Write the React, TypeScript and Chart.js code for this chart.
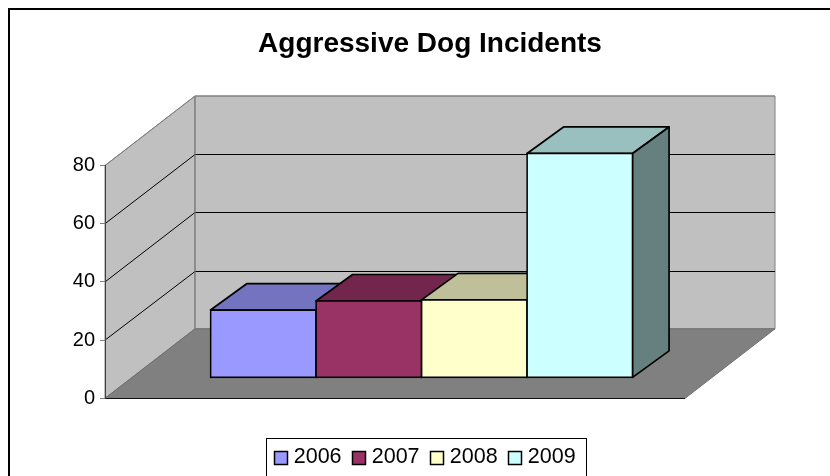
import React, { useEffect, useRef } from "react";
import { Chart, registerables } from "chart.js";

Chart.register(...registerables);

const categories = ["Incidents"];
const years = ["2006", "2007", "2008", "2009"];
const values = [23.3, 26.4, 26.8, 77.1];
const frontColors = ["#9999FF", "#993366", "#FFFFCC", "#CCFFFF"];
const topColors = ["#7373BF", "#73264D", "#BFBF99", "#99BFBF"];
const sideColors = ["#4D4D80", "#4D1A33", "#808066", "#668080"];
const yTicks = [0, 20, 40, 60, 80];

const FONT = "'Liberation Sans', Arial, sans-serif";
const WALL_DX = 90;
const WALL_DY = -69.5;
const FLOOR_SHIFT = 0.295;
const BAR_DX = 36.5;
const BAR_DY = -26.5;
const EDGE = 1.7;
const LEGEND_SHIFT_X = 82.3;
const LEGEND_SHIFT_Y = 2;
const SWATCH = 13;

const scene = {
  id: "scene3d",
  beforeDraw(chart: any) {
    const { ctx, width } = chart;
    const { left, right, top, bottom } = chart.chartArea;
    const y = chart.scales.y;
    ctx.save();
    ctx.fillStyle = "#FFFFFF";
    ctx.fillRect(0, 0, chart.width, chart.height);

    // outer frame
    ctx.strokeStyle = "#000000";
    ctx.lineWidth = 2;
    ctx.beginPath();
    ctx.moveTo(9, chart.height);
    ctx.lineTo(9, 9);
    ctx.lineTo(width, 9);
    ctx.stroke();

    // side wall
    ctx.fillStyle = "#C0C0C0";
    ctx.strokeStyle = "#808080";
    ctx.lineWidth = 1;
    ctx.beginPath();
    ctx.moveTo(left, bottom);
    ctx.lineTo(left, top);
    ctx.lineTo(left + WALL_DX, top + WALL_DY);
    ctx.lineTo(left + WALL_DX, bottom + WALL_DY);
    ctx.closePath();
    ctx.fill();
    ctx.stroke();

    // back wall
    ctx.beginPath();
    ctx.rect(left + WALL_DX, top + WALL_DY, right - left, bottom - top);
    ctx.fill();
    ctx.stroke();

    // floor
    ctx.fillStyle = "#808080";
    ctx.beginPath();
    ctx.moveTo(left, bottom);
    ctx.lineTo(left + WALL_DX, bottom + WALL_DY);
    ctx.lineTo(right + WALL_DX, bottom + WALL_DY);
    ctx.lineTo(right, bottom);
    ctx.closePath();
    ctx.fill();
    ctx.strokeStyle = "#6E6E6E";
    ctx.stroke();

    // grid lines
    ctx.strokeStyle = "#000000";
    ctx.lineWidth = 1;
    yTicks.slice(1, -1).forEach((t) => {
      const py = y.getPixelForValue(t);
      const backY = Math.round(py + WALL_DY) + 0.5;
      ctx.beginPath();
      ctx.moveTo(left, py);
      ctx.lineTo(left + WALL_DX, backY);
      ctx.lineTo(right + WALL_DX, backY);
      ctx.stroke();
    });
    // top edges in wall grey
    ctx.strokeStyle = "#808080";
    ctx.beginPath();
    ctx.moveTo(left, top);
    ctx.lineTo(left + WALL_DX, top + WALL_DY);
    ctx.lineTo(right + WALL_DX, top + WALL_DY);
    ctx.stroke();
    ctx.beginPath();
    ctx.moveTo(left + WALL_DX, top + WALL_DY);
    ctx.lineTo(left + WALL_DX, bottom + WALL_DY);
    ctx.stroke();

    // front floor edge
    ctx.strokeStyle = "#111111";
    ctx.beginPath();
    ctx.moveTo(left, Math.round(bottom) + 0.5);
    ctx.lineTo(right, Math.round(bottom) + 0.5);
    ctx.stroke();

    // legend frame
    ctx.strokeStyle = "#000000";
    ctx.lineWidth = 1;
    ctx.strokeRect(266.5, 438.5, 320, 60);
    ctx.restore();
  },
  beforeDatasetsDraw(chart: any) {
    const { ctx } = chart;
    ctx.save();
    ctx.translate(WALL_DX * FLOOR_SHIFT, WALL_DY * FLOOR_SHIFT);
    // paint the boxes left to right so that nearer faces overlap correctly
    years.forEach((_, i) => {
      const bar = chart.getDatasetMeta(i).data[0];
      const { x, y, base, width } = bar.getProps(["x", "y", "base", "width"], true);
      const l = x - width / 2;
      const r = x + width / 2;
      ctx.save();
      ctx.strokeStyle = "#000000";
      ctx.lineWidth = EDGE;
      ctx.lineJoin = "round";
      ctx.fillStyle = topColors[i];
      ctx.beginPath();
      ctx.moveTo(l, y);
      ctx.lineTo(l + BAR_DX, y + BAR_DY);
      ctx.lineTo(r + BAR_DX, y + BAR_DY);
      ctx.lineTo(r, y);
      ctx.closePath();
      ctx.fill();
      ctx.stroke();
      ctx.fillStyle = sideColors[i];
      ctx.beginPath();
      ctx.moveTo(r, y);
      ctx.lineTo(r + BAR_DX, y + BAR_DY);
      ctx.lineTo(r + BAR_DX, base + BAR_DY);
      ctx.lineTo(r, base);
      ctx.closePath();
      ctx.fill();
      ctx.stroke();
      ctx.restore();
      bar.draw(ctx);
    });
    ctx.restore();
  },
  beforeDatasetDraw() {
    return false;
  },
  afterLayout(chart: any) {
    chart.titleBlock.left += 87.5;
    chart.titleBlock.right += 87.5;
    chart.legend.left += LEGEND_SHIFT_X;
    chart.legend.right += LEGEND_SHIFT_X;
    chart.legend.top += LEGEND_SHIFT_Y;
    chart.legend.bottom += LEGEND_SHIFT_Y;
  },
  afterDraw(chart: any) {
    // legend swatches sit closer to their text than the library's gap allows
    const { ctx, legend } = chart;
    ctx.save();
    ctx.strokeStyle = "#000000";
    ctx.lineWidth = 1.5;
    legend.legendHitBoxes.forEach((hit: any, i: number) => {
      const sy = Math.round(hit.top + hit.height / 2 - SWATCH / 2) + 0.5;
      const sx = Math.round(hit.left) + 0.5;
      ctx.fillStyle = frontColors[i];
      ctx.fillRect(sx, sy, SWATCH, SWATCH);
      ctx.strokeRect(sx, sy, SWATCH, SWATCH);
    });
    ctx.restore();
  },
};

export default function App() {
  const ref = useRef<HTMLCanvasElement>(null);
  useEffect(() => {
    const chart = new Chart(ref.current as HTMLCanvasElement, {
      type: "bar",
      data: {
        labels: categories,
        datasets: years.map((year, i) => ({
          label: year,
          data: [values[i]],
          backgroundColor: frontColors[i],
          borderColor: "#000000",
          borderWidth: EDGE,
          borderSkipped: false,
          inflateAmount: EDGE / 2,
          categoryPercentage: 422 / 580,
          barPercentage: 1,
        })),
      },
      options: {
        responsive: false,
        animation: false,
        devicePixelRatio: 1,
        layout: { padding: { left: 0, right: 145, top: 0, bottom: 0 } },
        plugins: {
          tooltip: { enabled: false },
          title: {
            display: true,
            text: "Aggressive Dog Incidents",
            color: "#000000",
            font: { family: FONT, size: 28, weight: "bold" },
            padding: { top: 27, bottom: 104.9 },
          },
          legend: {
            position: "bottom",
            labels: {
              color: "#000000",
              font: { family: FONT, size: 21.5 },
              boxWidth: 9,
              boxHeight: 9,
              padding: 10.45,
              generateLabels: () =>
                years.map((year) => ({
                  text: year,
                  fillStyle: "rgba(0,0,0,0)",
                  strokeStyle: "rgba(0,0,0,0)",
                  lineWidth: 0,
                  fontColor: "#000000",
                })),
            },
          },
        },
        scales: {
          x: {
            display: true,
            grid: { display: false },
            border: { display: false },
            ticks: { display: false },
            afterFit: (s: any) => {
              s.height = 35.7;
            },
          },
          y: {
            min: 0,
            max: 80,
            afterFit: (s: any) => {
              s.width = 105;
            },
            afterBuildTicks: (s: any) => {
              s.ticks = yTicks.map((value) => ({ value }));
            },
            grid: {
              drawOnChartArea: false,
              color: "#808080",
              tickLength: 5,
            },
            border: { color: "#404040", width: 1 },
            ticks: {
              color: "#000000",
              font: { family: FONT, size: 20 },
              padding: 5,
            },
          },
        },
      },
      plugins: [scene],
    } as any);
    return () => chart.destroy();
  }, []);
  return (
    <canvas
      ref={ref}
      width={830}
      height={476}
      style={{ position: "fixed", left: 0, top: 0, display: "block" }}
    />
  );
}
